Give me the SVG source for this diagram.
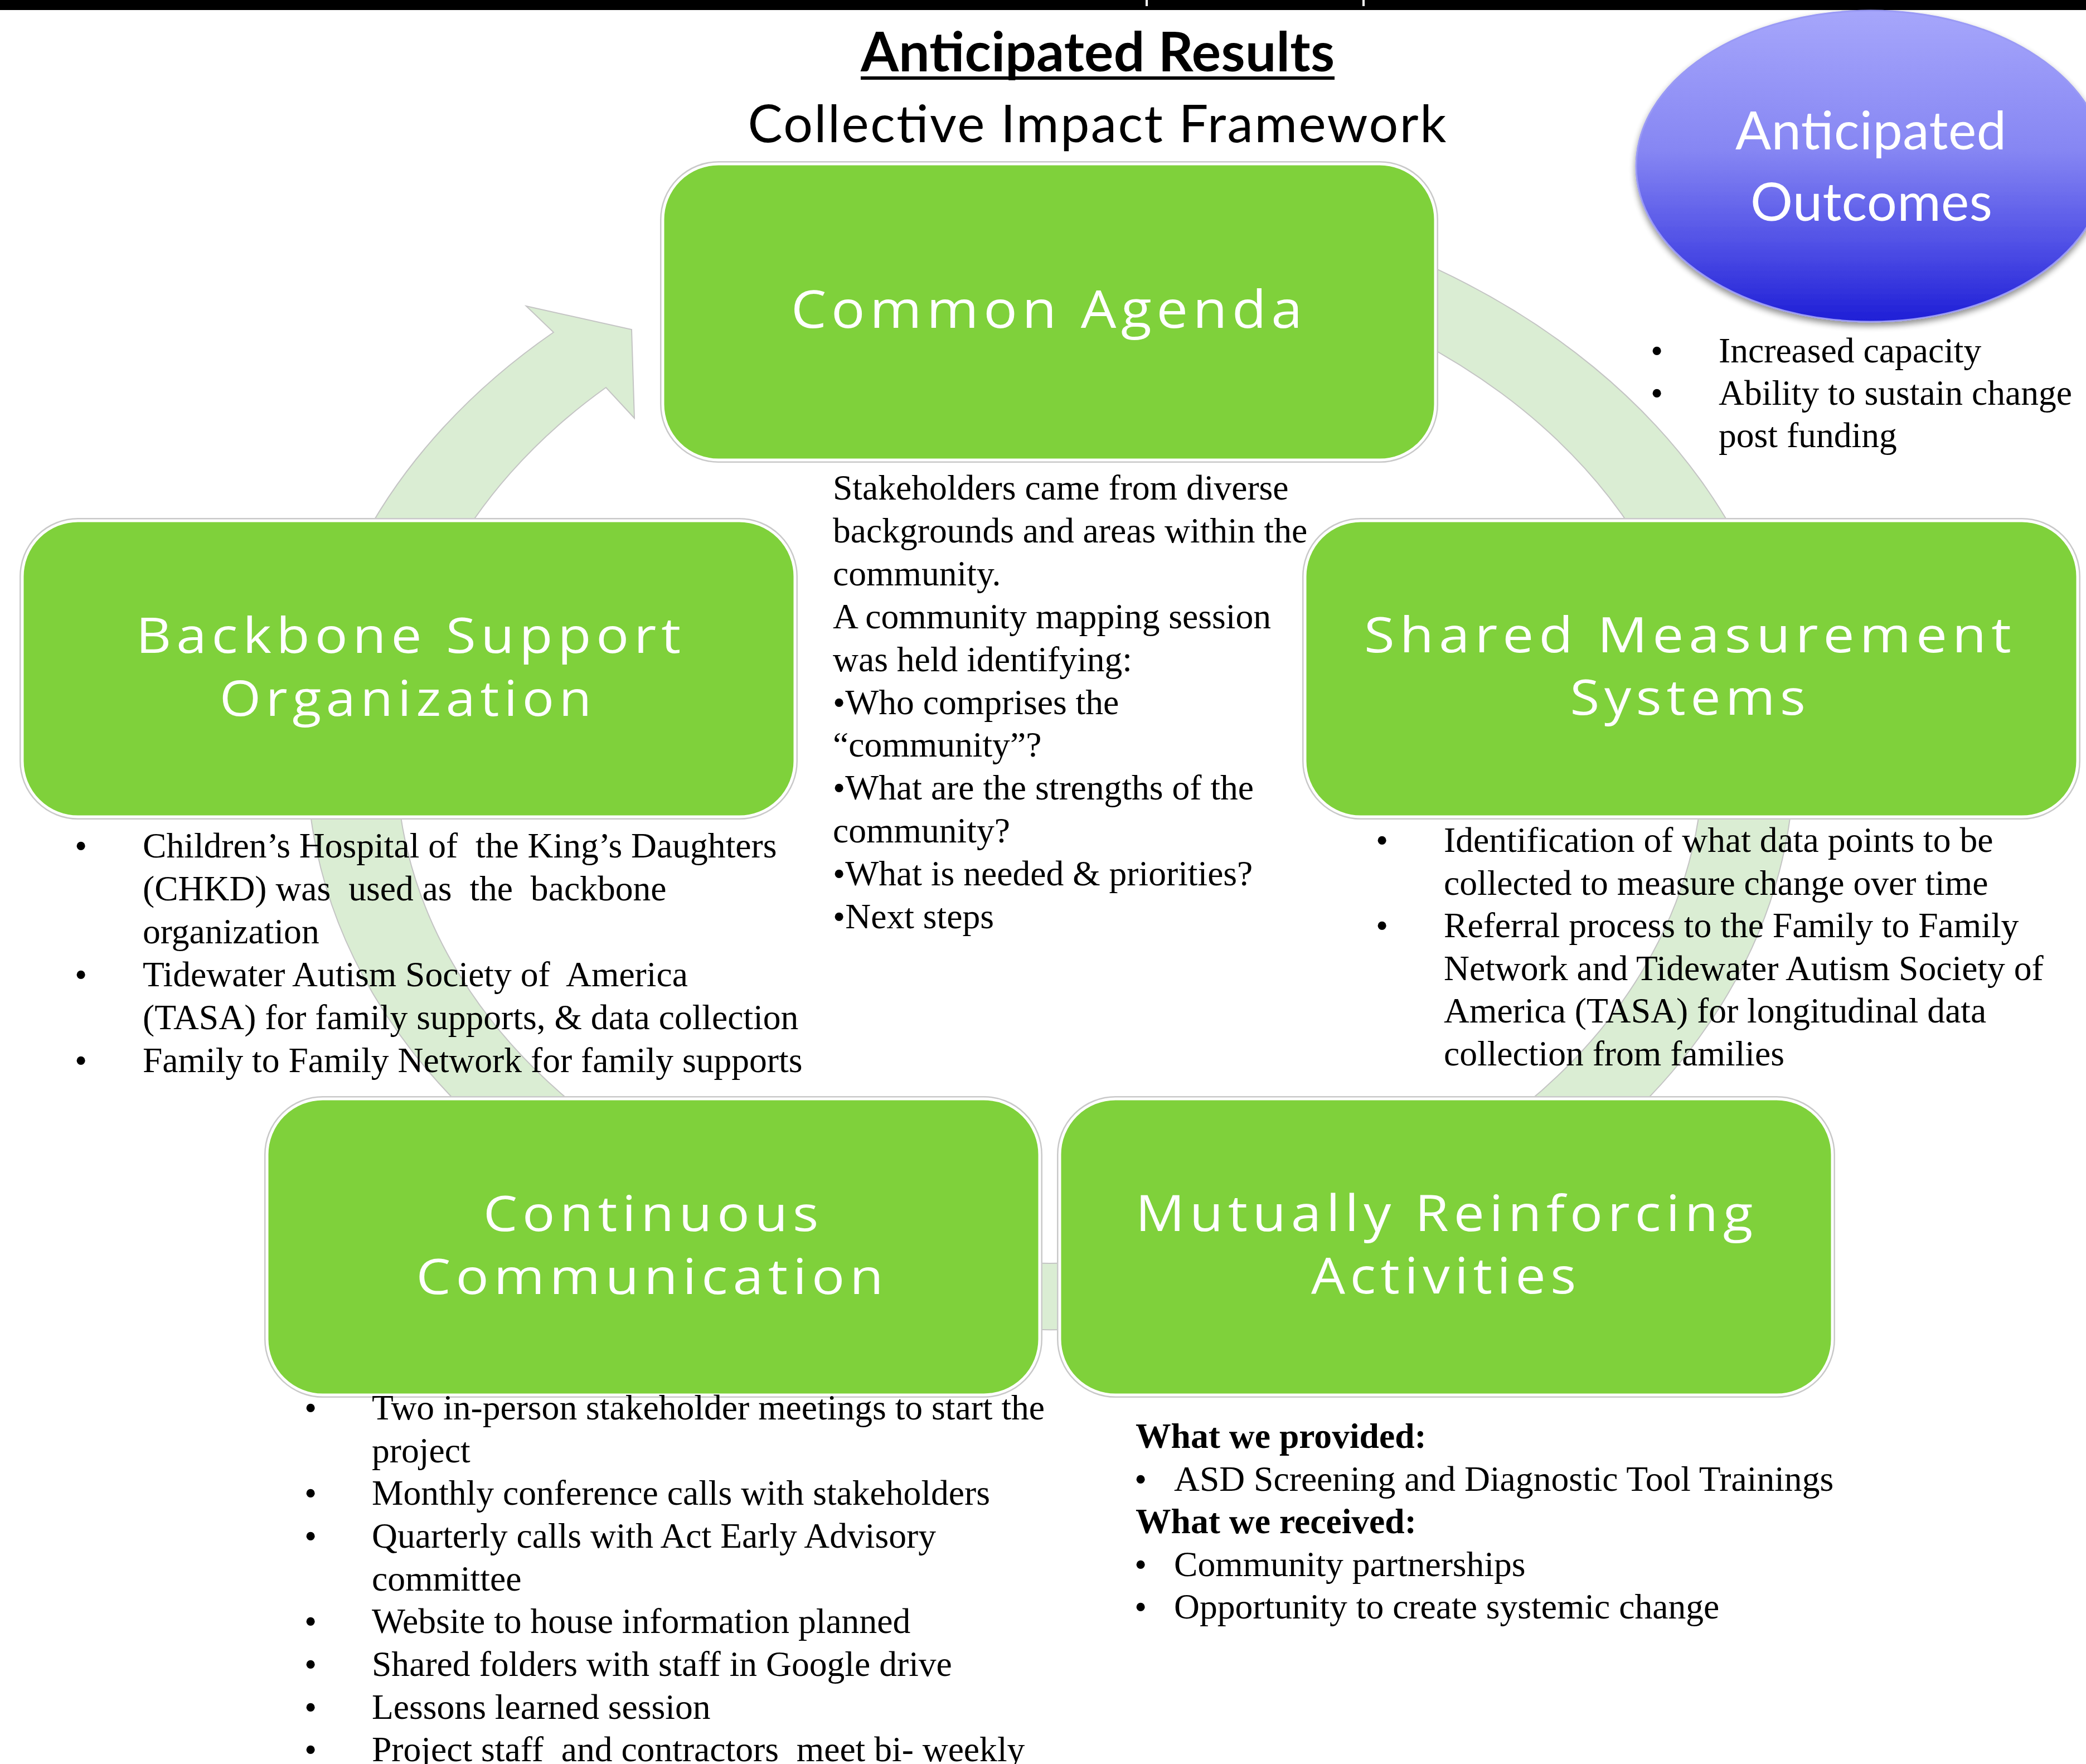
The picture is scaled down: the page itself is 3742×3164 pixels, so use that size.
<svg xmlns="http://www.w3.org/2000/svg" width="3742" height="3164" viewBox="0 0 3742 3164">
<defs>
<linearGradient id="blueGrad" x1="0" y1="0" x2="0" y2="1">
<stop offset="0" stop-color="#A6A6FB"/>
<stop offset="0.45" stop-color="#8686F3"/>
<stop offset="0.75" stop-color="#5050E6"/>
<stop offset="1" stop-color="#1E1ED6"/>
</linearGradient>
<filter id="shadow" x="-10%" y="-10%" width="120%" height="130%">
<feGaussianBlur in="SourceAlpha" stdDeviation="6"/>
<feOffset dy="6" result="off"/>
<feComponentTransfer><feFuncA type="linear" slope="0.45"/></feComponentTransfer>
<feMerge><feMergeNode/><feMergeNode in="SourceGraphic"/></feMerge>
</filter>
</defs>
<style>
.box{fill:#7FD13B;stroke:#FFFFFF;stroke-width:5}
.boxedge{fill:none;stroke:#C9C9C9;stroke-width:10}
.label{font-family:'Open Sans',Lato,sans-serif;fill:#FFFFFF;text-anchor:middle;letter-spacing:8px}
.olabel{font-family:Lato,'Open Sans',sans-serif;fill:#FFFFFF;text-anchor:middle}
.title{font-family:Lato,'Open Sans',sans-serif;fill:#000000;text-anchor:middle}
.body{font-family:'Liberation Serif','Times New Roman',serif;font-size:63.6px;fill:#000000}
.bold{font-weight:bold}
.ring{fill:#DAEDD3;stroke:#C4C4C4;stroke-width:2}
</style>
<rect x="0" y="0" width="3742" height="3164" fill="#FFFFFF"/>
<rect x="0" y="0" width="3742" height="18" fill="#000000"/>
<rect x="2055" y="0" width="4" height="11" fill="#FFFFFF"/>
<rect x="2444" y="0" width="4" height="11" fill="#FFFFFF"/>

<g id="title">
<text class="title bold" x="1969" y="128" font-size="98" textLength="850" lengthAdjust="spacing">Anticipated Results</text>
<rect x="1544" y="137" width="850" height="6" fill="#000000"/>
<text class="title" x="1968" y="255" font-size="93" textLength="1253" lengthAdjust="spacing">Collective Impact Framework</text>
</g>

<g id="connectors">
<path class="ring" d="M 1300,437 A 1334 1026 0 1 1 993,596 L 944,549 L 1133,591 L 1138,750 L 1087,695 A 1172 906 0 1 0 1300,574 Z"/>
</g>

<g id="node-common-agenda">
<rect class="boxedge" x="1189" y="294" width="1386" height="531" rx="100"/>
<rect class="box" x="1189" y="294" width="1386" height="531" rx="100"/>
<text class="label" x="1882" y="588" font-size="93" textLength="926" lengthAdjust="spacingAndGlyphs">Common Agenda</text>
</g>

<g id="node-backbone">
<rect class="boxedge" x="40" y="934" width="1386" height="531" rx="100"/>
<rect class="box" x="40" y="934" width="1386" height="531" rx="100"/>
<text class="label" x="737" y="1171" font-size="87" textLength="986" lengthAdjust="spacingAndGlyphs">Backbone Support</text>
<text class="label" x="732" y="1284" font-size="87" textLength="676" lengthAdjust="spacingAndGlyphs">Organization</text>
</g>

<g id="node-shared">
<rect class="boxedge" x="2341" y="934" width="1386" height="531" rx="100"/>
<rect class="box" x="2341" y="934" width="1386" height="531" rx="100"/>
<text class="label" x="3032" y="1170" font-size="88" textLength="1170" lengthAdjust="spacingAndGlyphs">Shared Measurement</text>
<text class="label" x="3032" y="1282" font-size="88" textLength="431" lengthAdjust="spacingAndGlyphs">Systems</text>
</g>

<g id="node-continuous">
<rect class="boxedge" x="479" y="1971" width="1386" height="531" rx="100"/>
<rect class="box" x="479" y="1971" width="1386" height="531" rx="100"/>
<text class="label" x="1172" y="2208" font-size="88" textLength="610" lengthAdjust="spacingAndGlyphs">Continuous</text>
<text class="label" x="1170" y="2321" font-size="88" textLength="847" lengthAdjust="spacingAndGlyphs">Communication</text>
</g>

<g id="node-mutually">
<rect class="boxedge" x="1901" y="1971" width="1386" height="531" rx="100"/>
<rect class="box" x="1901" y="1971" width="1386" height="531" rx="100"/>
<text class="label" x="2595" y="2208" font-size="89" textLength="1116" lengthAdjust="spacingAndGlyphs">Mutually Reinforcing</text>
<text class="label" x="2594" y="2320" font-size="89" textLength="484" lengthAdjust="spacingAndGlyphs">Activities</text>
</g>

<g id="node-outcomes">
<ellipse cx="3356" cy="298" rx="421" ry="279" fill="url(#blueGrad)" stroke="#9A9AF5" stroke-width="3" filter="url(#shadow)"/>
<text class="olabel" x="3356" y="268" font-size="95" textLength="486" lengthAdjust="spacing">Anticipated</text>
<text class="olabel" x="3357" y="396" font-size="95" textLength="434" lengthAdjust="spacing">Outcomes</text>
</g>

<g id="outcomes-list" class="body">
<text x="2961" y="650">•</text><text x="3083" y="650">Increased capacity</text>
<text x="2961" y="726">•</text><text x="3083" y="726">Ability to sustain change</text>
<text x="3083" y="802">post funding</text>
</g>

<g id="common-agenda-text" class="body">
<text x="1494" y="896">Stakeholders came from diverse</text>
<text x="1494" y="973">backgrounds and areas within the</text>
<text x="1494" y="1050">community.</text>
<text x="1494" y="1127">A community mapping session</text>
<text x="1494" y="1204">was held identifying:</text>
<text x="1494" y="1281">•Who comprises the</text>
<text x="1494" y="1357">“community”?</text>
<text x="1494" y="1434">•What are the strengths of the</text>
<text x="1494" y="1511">community?</text>
<text x="1494" y="1588">•What is needed &amp; priorities?</text>
<text x="1494" y="1665">•Next steps</text>
</g>

<g id="backbone-text" class="body">
<text x="134" y="1538">•</text><text x="256" y="1538" xml:space="preserve">Children’s Hospital of  the King’s Daughters</text>
<text x="256" y="1615" xml:space="preserve">(CHKD) was  used as  the  backbone</text>
<text x="256" y="1692">organization</text>
<text x="134" y="1769">•</text><text x="256" y="1769" xml:space="preserve">Tidewater Autism Society of  America</text>
<text x="256" y="1846">(TASA) for family supports, &amp; data collection</text>
<text x="134" y="1923">•</text><text x="256" y="1923">Family to Family Network for family supports</text>
</g>

<g id="shared-text" class="body">
<text x="2468" y="1528">•</text><text x="2590" y="1528">Identification of what data points to be</text>
<text x="2590" y="1605">collected to measure change over time</text>
<text x="2468" y="1681">•</text><text x="2590" y="1681">Referral process to the Family to Family</text>
<text x="2590" y="1758">Network and Tidewater Autism Society of</text>
<text x="2590" y="1834">America (TASA) for longitudinal data</text>
<text x="2590" y="1911">collection from families</text>
</g>

<g id="continuous-text" class="body">
<text x="546" y="2546">•</text><text x="667" y="2546">Two in-person stakeholder meetings to start the</text>
<text x="667" y="2623">project</text>
<text x="546" y="2699">•</text><text x="667" y="2699">Monthly conference calls with stakeholders</text>
<text x="546" y="2776">•</text><text x="667" y="2776">Quarterly calls with Act Early Advisory</text>
<text x="667" y="2853">committee</text>
<text x="546" y="2929">•</text><text x="667" y="2929">Website to house information planned</text>
<text x="546" y="3006">•</text><text x="667" y="3006">Shared folders with staff in Google drive</text>
<text x="546" y="3083">•</text><text x="667" y="3083">Lessons learned session</text>
<text x="546" y="3159">•</text><text x="667" y="3159" xml:space="preserve">Project staff  and contractors  meet bi- weekly</text>
</g>

<g id="mutually-text" class="body">
<text class="bold" x="2037" y="2597">What we provided:</text>
<text x="2035" y="2674">•</text><text x="2106" y="2674">ASD Screening and Diagnostic Tool Trainings</text>
<text class="bold" x="2037" y="2750">What we received:</text>
<text x="2035" y="2827">•</text><text x="2106" y="2827">Community partnerships</text>
<text x="2035" y="2903">•</text><text x="2106" y="2903">Opportunity to create systemic change</text>
</g>
</svg>
